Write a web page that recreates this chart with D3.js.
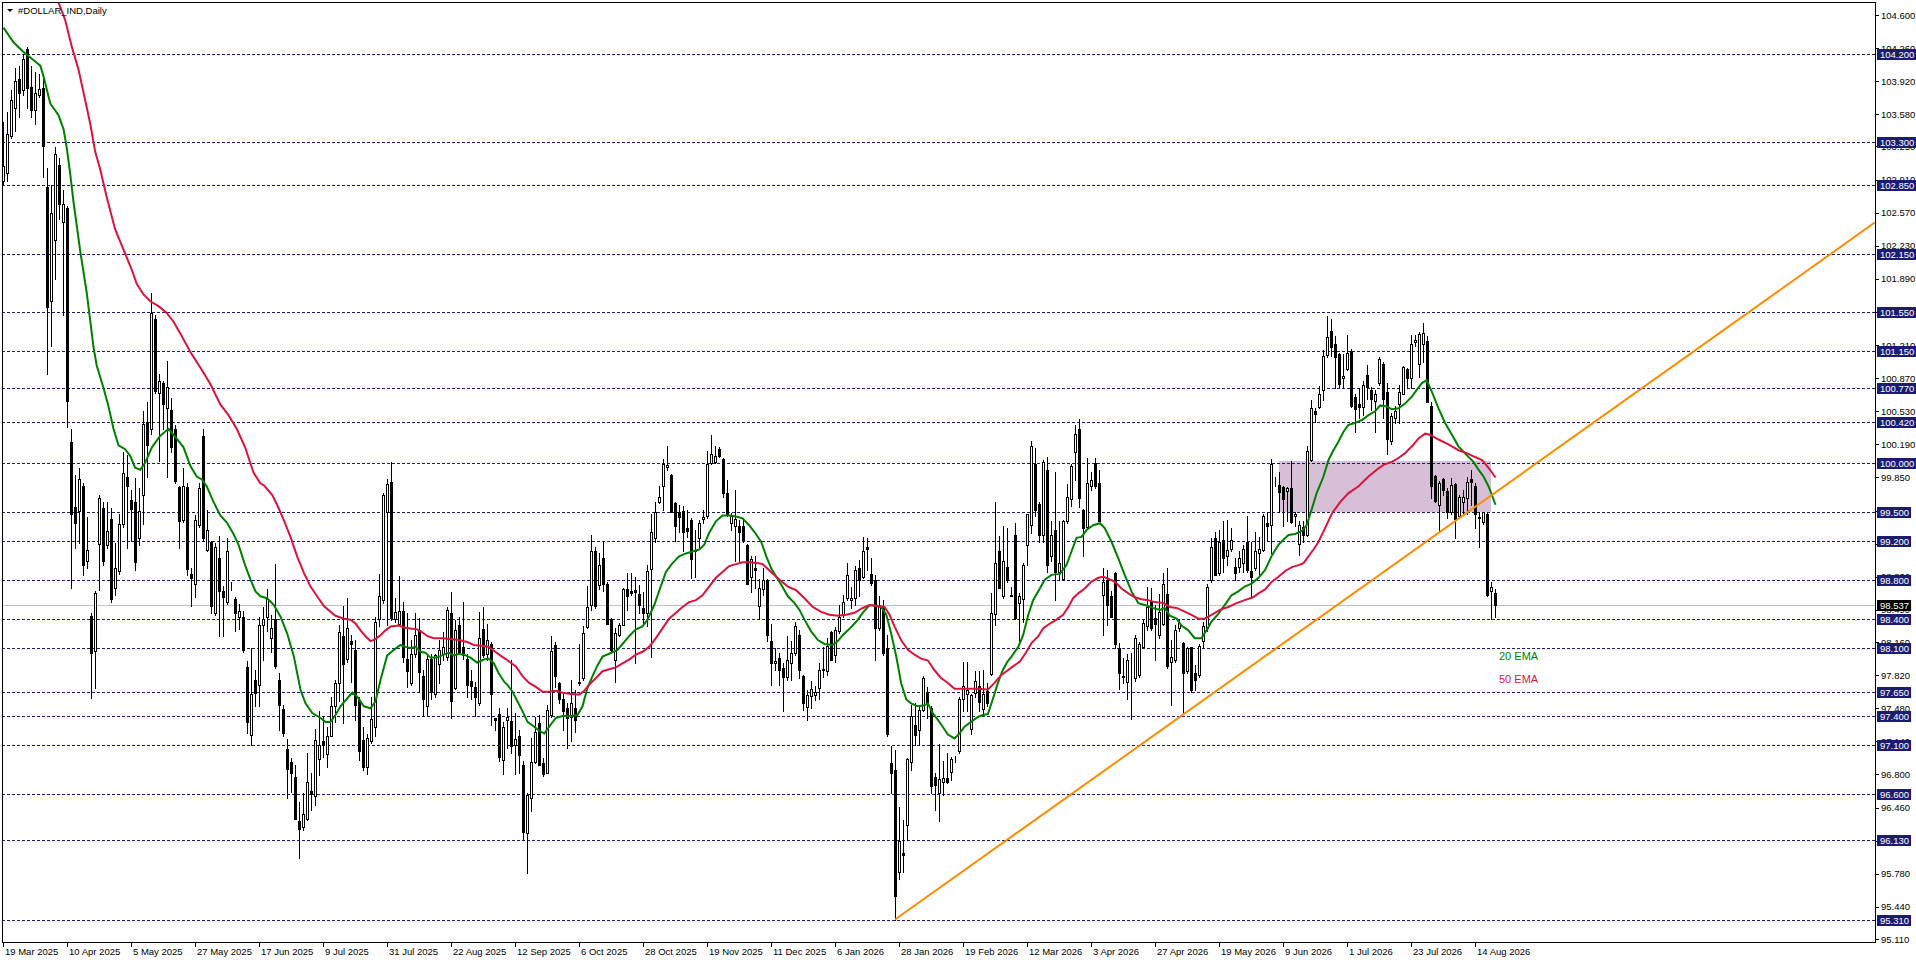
<!DOCTYPE html>
<html>
<head>
<meta charset="utf-8">
<script src="https://cdn.jsdelivr.net/npm/d3@7"></script>
<style>
body { margin: 0; background: #fff; overflow: hidden; }
text { font-family: 'Liberation Sans', Arial, sans-serif; }
</style>
</head>
<body>
<script>
// daily bars, bar 0 = 19 Mar 2025 : [open, high, low, close]
let ohlc = [
[102.90,103.50,102.86,103.05],[102.98,103.60,102.90,103.38],[103.36,103.83,103.34,103.73],[103.64,104.06,103.41,103.92],[103.94,104.08,103.55,103.80],
[103.83,104.20,103.78,104.15],[104.25,104.27,103.64,103.85],[103.86,104.08,103.55,103.62],[103.62,104.01,103.48,103.80],[103.78,103.99,103.76,103.84],
[103.85,103.99,102.94,103.25],[102.83,103.03,100.91,101.60],[101.66,102.85,101.20,102.57],[102.29,103.24,101.89,103.17],[103.06,103.13,102.50,102.66],
[102.47,102.80,101.52,102.66],[102.62,102.64,100.37,100.64],[100.21,100.35,98.72,99.48],[99.55,99.88,99.13,99.38],[99.51,99.95,99.18,99.83],
[99.76,99.79,98.85,98.95],[98.99,99.44,98.92,99.11],[98.43,98.46,97.59,98.05],[98.07,98.68,97.69,98.66],[99.17,99.67,98.69,99.64],
[99.54,99.60,98.95,98.99],[99.16,99.60,99.13,99.30],[99.42,99.54,98.57,98.60],[98.72,99.18,98.64,98.92],[98.89,99.48,98.86,99.37],
[99.37,100.11,99.34,99.90],[99.86,100.08,99.13,99.76],[99.62,99.72,99.20,99.53],[99.60,99.84,98.90,98.98],[99.23,99.74,99.16,99.51],
[99.67,100.53,99.37,100.40],[100.42,100.63,99.86,100.18],[100.35,101.74,100.30,101.54],[101.48,101.52,100.72,100.74],[100.72,100.91,100.02,100.84],
[100.82,100.84,100.35,100.60],[100.56,101.05,99.86,100.78],[100.54,100.67,100.11,100.16],[100.35,100.39,99.79,99.81],[99.75,99.76,99.13,99.40],
[99.41,99.95,99.39,99.76],[99.75,99.79,98.85,98.91],[98.86,98.92,98.53,98.82],[98.76,99.46,98.62,99.41],[99.36,99.79,99.34,99.74],
[100.28,100.35,99.20,99.23],[99.11,99.52,99.09,99.31],[99.19,99.20,98.46,98.53],[98.46,99.18,98.44,99.14],[99.02,99.25,98.22,98.68],
[98.68,98.74,98.22,98.62],[98.57,99.23,98.55,99.09],[98.76,98.78,98.69,98.76],[98.60,98.62,98.27,98.46],[98.42,98.55,98.29,98.48],
[98.42,98.48,98.06,98.08],[97.90,97.97,97.23,97.34],[97.21,98.10,97.10,97.63],[97.77,97.87,97.50,97.64],[97.72,98.42,97.50,98.34],
[98.34,98.52,97.98,98.40],[98.42,98.70,98.27,98.60],[98.20,98.44,98.06,98.30],[98.40,98.96,97.89,97.91],[97.77,97.84,97.26,97.51],
[97.47,97.51,97.19,97.23],[97.06,97.16,96.56,96.86],[96.93,96.97,96.62,96.82],[96.77,96.90,96.34,96.34],[96.32,96.52,95.94,96.24],
[96.26,96.61,96.23,96.39],[96.34,97.02,96.33,96.72],[96.63,96.81,96.44,96.60],[96.58,97.27,96.49,97.15],[96.96,97.45,96.79,97.10],
[97.14,97.40,96.98,97.10],[97.01,97.29,96.88,97.20],[97.20,97.60,97.19,97.50],[97.50,97.77,97.34,97.74],[97.74,98.34,97.55,98.26],
[98.22,98.53,97.33,97.93],[97.99,98.61,97.96,98.30],[98.17,98.23,97.75,98.14],[98.08,98.18,97.36,97.51],[97.56,97.60,96.95,97.04],
[97.15,97.29,96.85,96.88],[96.88,97.22,96.80,97.17],[97.14,97.60,97.12,97.37],[97.29,98.42,97.19,98.37],[98.40,98.86,98.32,98.63],
[98.59,99.69,98.56,99.67],[99.50,99.83,98.34,99.78],[99.80,100.01,98.39,98.41],[98.40,98.61,98.37,98.47],[98.35,98.84,98.34,98.48],
[98.48,98.57,97.96,98.01],[97.99,98.46,97.70,97.86],[97.74,98.18,97.72,98.04],[98.04,98.46,98.01,98.23],[98.28,98.41,97.65,97.85],
[97.81,97.87,97.40,97.57],[97.50,98.04,97.41,97.99],[97.99,98.04,97.57,97.65],[97.63,98.04,97.60,98.03],[97.93,98.18,97.74,98.08],
[98.04,98.26,97.98,98.11],[98.01,98.52,97.98,98.49],[98.46,98.67,97.38,97.55],[97.69,98.39,97.68,98.28],[98.34,98.42,98.04,98.06],
[98.11,98.57,97.99,98.03],[97.99,98.04,97.60,97.72],[97.76,97.87,97.57,97.71],[97.70,97.75,97.40,97.60],[97.53,98.47,97.51,98.20],
[98.29,98.52,98.01,98.03],[98.04,98.35,97.98,98.18],[98.14,98.16,97.31,97.63],[97.38,97.38,97.26,97.36],[97.42,97.48,96.94,96.98],
[96.95,97.34,96.80,97.29],[97.36,97.48,97.07,97.39],[97.35,97.98,97.02,97.09],[97.10,97.43,96.80,97.16],[97.20,97.26,96.81,97.00],
[96.90,96.94,96.13,96.21],[96.20,96.61,95.79,96.59],[96.56,97.17,96.42,96.93],[96.93,97.39,96.92,97.24],[97.33,97.41,96.90,96.90],
[96.92,96.97,96.78,96.80],[96.81,97.51,96.81,97.46],[97.41,98.22,97.39,98.07],[98.13,98.16,97.70,97.81],[97.74,97.75,97.53,97.57],
[97.57,97.63,97.26,97.45],[97.48,97.53,97.07,97.38],[97.39,97.77,97.14,97.53],[97.48,97.67,97.24,97.36],[97.75,98.14,97.72,97.74],
[97.79,98.32,97.77,98.25],[98.31,98.74,98.30,98.52],[98.54,99.26,98.49,99.10],[99.10,99.14,98.51,98.53],[98.75,99.07,98.70,98.95],
[99.02,99.20,98.68,98.76],[98.76,98.78,98.35,98.35],[98.40,98.41,98.06,98.08],[97.98,98.30,97.75,98.25],[98.23,98.36,98.22,98.34],
[98.34,98.71,98.33,98.70],[98.70,98.87,98.49,98.63],[98.68,98.87,98.64,98.66],[98.69,98.83,97.94,98.67],[98.65,98.75,98.46,98.54],
[98.51,98.67,98.35,98.46],[98.46,98.95,98.32,98.89],[98.91,99.48,98.01,99.29],[99.23,99.60,99.19,99.50],[99.60,99.76,99.59,99.65],
[99.76,100.04,99.52,99.99],[99.96,100.17,99.93,99.98],[99.88,99.89,99.50,99.50],[99.59,99.60,99.20,99.35],[99.50,99.57,99.29,99.44],
[99.51,99.56,99.09,99.29],[99.33,99.52,99.24,99.30],[99.41,99.43,98.82,99.01],[99.09,99.31,98.83,99.11],[99.23,99.41,99.14,99.38],
[99.42,99.52,99.38,99.44],[99.45,100.12,99.43,99.99],[100.00,100.29,99.99,100.09],[100.01,100.17,100.00,100.07],[100.14,100.16,100.06,100.07],
[100.04,100.05,99.65,99.69],[99.69,99.82,99.45,99.47],[99.38,99.49,99.31,99.45],[99.35,99.72,98.99,99.42],[99.35,99.41,98.99,99.29],
[99.35,99.43,99.19,99.21],[99.16,99.17,98.76,98.76],[98.83,99.04,98.67,99.01],[98.92,99.04,98.71,98.90],[98.53,98.81,98.40,98.71],
[98.70,98.92,98.64,98.80],[98.80,98.81,98.17,98.23],[98.17,98.35,97.72,97.94],[97.94,98.10,97.87,97.97],[98.00,98.05,97.72,97.87],
[97.89,97.94,97.45,97.80],[97.80,98.22,97.77,97.98],[97.94,98.17,97.77,98.05],[98.05,98.37,98.03,98.32],[98.23,98.28,97.79,97.87],
[97.81,97.82,97.46,97.53],[97.49,97.67,97.36,97.62],[97.61,97.76,97.48,97.68],[97.62,97.71,97.56,97.65],[97.69,97.94,97.58,97.87],
[97.88,98.11,97.80,97.87],[97.86,98.20,97.82,98.12],[98.26,98.27,97.98,97.98],[98.03,98.31,97.96,98.28],[98.27,98.54,98.25,98.42],
[98.44,98.64,98.42,98.57],[98.61,98.97,98.59,98.85],[98.59,98.73,98.51,98.61],[98.61,98.94,98.54,98.90],[98.92,99.00,98.63,98.80],
[98.83,99.24,98.82,99.10],[99.14,99.23,98.90,99.12],[98.86,99.02,98.75,98.77],[98.80,98.85,97.98,98.30],[98.30,98.63,98.28,98.54],
[98.52,98.59,98.03,98.05],[98.10,98.23,97.19,97.22],[96.92,97.09,96.61,96.81],[96.85,97.05,95.31,95.55],[95.80,96.47,95.73,96.12],
[95.99,96.33,95.80,95.97],[96.28,96.97,96.13,96.96],[96.93,97.51,96.85,97.40],[97.31,97.53,97.10,97.21],[97.26,97.51,97.10,97.46],
[97.46,97.81,97.45,97.79],[97.65,97.70,97.38,97.53],[97.48,97.50,96.61,96.68],[96.77,96.81,96.44,96.69],[96.61,97.11,96.32,96.75],
[96.72,96.94,96.59,96.76],[96.76,97.02,96.71,96.72],[96.83,96.98,96.74,96.96],[96.98,96.99,96.93,96.98],[97.04,97.60,97.02,97.58],
[97.57,97.95,97.45,97.71],[97.63,97.95,97.45,97.67],[97.27,97.63,97.22,97.62],[97.64,97.86,97.60,97.76],[97.71,97.86,97.45,97.54],
[97.47,97.87,97.41,97.63],[97.66,97.74,97.50,97.53],[97.83,98.66,97.82,98.46],[98.45,99.60,98.34,98.97],[99.09,99.25,98.71,98.71],
[98.63,99.35,98.61,98.99],[98.93,99.33,98.78,98.80],[98.64,98.73,98.63,98.63],[99.26,99.38,98.40,98.41],[98.56,98.66,98.17,98.63],
[98.60,98.97,98.37,98.95],[99.16,99.48,98.95,99.47],[99.36,100.22,99.28,100.17],[99.99,100.15,99.45,99.52],[99.58,99.60,99.19,99.26],
[99.26,100.03,99.19,100.01],[99.93,100.06,98.88,98.95],[99.04,99.40,98.99,99.26],[99.31,99.91,98.59,98.88],[98.88,99.40,98.80,98.97],
[98.81,99.41,98.80,99.40],[99.40,99.78,99.38,99.65],[99.63,99.99,99.56,99.97],[100.11,100.39,99.82,100.30],[100.35,100.45,99.55,99.64],
[99.52,99.53,99.04,99.33],[99.34,100.05,99.33,99.79],[99.76,99.91,99.72,99.82],[100.00,100.05,99.74,99.76],[99.79,99.93,99.40,99.40],
[98.64,98.92,98.23,98.78],[98.80,98.90,98.34,98.54],[98.63,98.68,98.42,98.42],[98.87,98.88,98.10,98.14],[98.10,98.15,97.68,97.84],
[97.81,98.00,97.74,97.80],[97.75,98.04,97.57,97.98],[97.99,98.05,97.37,97.99],[97.79,98.23,97.76,98.20],[97.82,98.16,97.80,98.14],
[98.11,98.39,98.11,98.36],[98.32,98.73,98.28,98.52],[98.58,98.71,98.28,98.30],[98.41,98.54,97.98,98.35],[98.23,98.65,98.20,98.47],
[98.35,98.87,98.33,98.76],[98.65,98.92,97.89,97.91],[97.96,98.18,97.51,98.01],[97.98,98.33,97.96,98.28],[98.30,98.40,98.27,98.36],
[98.15,98.16,97.43,97.84],[97.86,98.11,97.84,98.10],[98.11,98.11,97.65,97.67],[97.84,97.92,97.67,97.77],[97.82,98.14,97.80,98.12],
[98.17,98.37,98.11,98.32],[98.30,98.76,98.27,98.73],[98.80,99.23,98.78,99.14],[99.23,99.29,98.85,98.85],[98.87,99.31,98.85,99.19],
[99.21,99.40,98.88,99.02],[99.04,99.41,98.95,99.11],[99.12,99.33,99.09,99.21],[98.93,99.02,98.80,98.87],[98.93,99.09,98.88,99.02],
[98.97,99.16,98.88,99.12],[99.19,99.45,98.88,98.90],[98.89,99.19,98.63,98.83],[98.92,99.29,98.90,99.09],[99.07,99.24,98.85,99.12],
[99.11,99.48,99.09,99.45],[99.38,99.50,99.21,99.35],[99.36,100.04,99.07,99.99],[99.77,99.86,99.76,99.77],[99.77,99.91,99.50,99.70],
[99.75,99.76,99.35,99.63],[99.71,99.75,99.40,99.74],[99.74,100.02,99.38,99.39],[99.45,99.50,99.35,99.48],[99.17,99.40,99.05,99.36],
[99.34,99.40,99.19,99.26],[99.26,100.17,99.25,100.12],[100.03,100.65,100.02,100.56],[100.53,100.56,100.42,100.50],[100.57,100.79,100.56,100.71],
[100.75,101.16,100.65,101.10],[101.11,101.51,101.09,101.29],[101.35,101.48,101.10,101.19],[101.22,101.30,100.77,101.09],[101.12,101.13,100.78,100.81],
[100.87,101.12,100.77,100.89],[100.96,101.31,100.95,101.13],[101.15,101.17,100.57,100.58],[100.68,100.71,100.32,100.55],[100.60,100.77,100.46,100.57],
[100.57,100.84,100.49,100.80],[100.90,101.01,100.66,100.78],[100.75,100.78,100.54,100.66],[100.64,100.75,100.32,100.71],[100.82,101.09,100.80,101.07],
[101.02,101.04,100.46,100.66],[100.73,100.82,100.09,100.25],[100.22,100.51,100.19,100.48],[100.46,100.58,100.41,100.53],[100.60,100.80,100.41,100.73],
[100.71,100.99,100.71,100.98],[100.96,100.97,100.77,100.87],[100.87,101.31,100.77,101.22],[101.24,101.31,101.20,101.26],[101.02,101.34,100.88,101.32],
[101.22,101.44,101.04,101.33],[101.25,101.30,100.63,100.63],[100.58,100.63,99.64,99.76],[99.87,99.88,99.60,99.61],[99.57,99.81,99.30,99.79],
[99.83,99.84,99.67,99.72],[99.71,99.74,99.43,99.50],[99.50,99.84,99.48,99.77],[99.78,99.79,99.23,99.42],[99.45,99.67,99.43,99.65],
[99.60,99.72,99.48,99.65],[99.64,99.85,99.48,99.80],[99.83,99.93,99.57,99.80],[99.76,99.79,99.33,99.48],[99.43,99.50,99.14,99.44],
[99.39,99.50,99.37,99.50],[99.48,99.50,98.63,98.64],[98.68,98.78,98.40,98.73],[98.66,98.70,98.42,98.537]
]

// one label every 16 bars
let dateLabels = ['19 Mar 2025','10 Apr 2025','5 May 2025','27 May 2025','17 Jun 2025','9 Jul 2025','31 Jul 2025','22 Aug 2025',
  '12 Sep 2025','6 Oct 2025','28 Oct 2025','19 Nov 2025','11 Dec 2025','6 Jan 2026','28 Jan 2026','19 Feb 2026',
  '12 Mar 2026','3 Apr 2026','27 Apr 2026','19 May 2026','9 Jun 2026','1 Jul 2026','23 Jul 2026','14 Aug 2026']
let labelStep = 16

let priceTicks = [104.600,104.260,103.920,103.580,103.250,102.910,102.570,102.230,101.890,101.550,101.210,100.870,100.530,
  100.190,99.850,99.510,99.170,98.830,98.490,98.160,97.820,97.480,97.140,96.800,96.460,96.120,95.780,95.440,95.110]

let levels = [104.200,103.300,102.850,102.150,101.550,101.150,100.770,100.420,100.000,99.500,99.200,98.800,98.400,
  98.100,97.650,97.400,97.100,96.600,96.130,95.310]

let lastPrice = 98.537

// [bar, value]
let ema20 = [[0,104.47],[2.5,104.32],[5,104.22],[7.1,104.15],[9.2,104.08],[10,103.97],[11.7,103.69],[13.75,103.57],[15,103.43],
[15.8,103.24],[16.7,102.96],[17.5,102.68],[19.2,102.17],[20.8,101.75],[22.5,101.19],[23.3,101.00],[25,100.77],[26.25,100.58],
[27.5,100.35],[28.75,100.18],[30.4,100.14],[31.7,100.07],[32.9,99.95],[34.2,99.93],[35.4,100.00],[37.1,100.16],[39.2,100.28],
[41.25,100.35],[43.3,100.25],[45,100.16],[46.7,99.97],[48.3,99.86],[49.6,99.83],[50.8,99.76],[52.5,99.60],[54.2,99.46],[55.8,99.39],
[57.5,99.27],[58.75,99.16],[60.4,98.95],[61.75,98.80],[63,98.68],[64.25,98.63],[65.9,98.61],[67.6,98.54],[69.25,98.42],[70.9,98.25],
[72.6,98.01],[74.25,97.67],[75.5,97.53],[77.2,97.43],[79.25,97.38],[80.5,97.34],[81.75,97.34],[83,97.41],[84.25,97.50],[85.9,97.58],
[87.2,97.64],[88.4,97.60],[90.1,97.50],[91.75,97.48],[93,97.55],[94.25,97.77],[95.9,98.02],[97.6,98.08],[99.25,98.13],[100.5,98.11],
[101.75,98.10],[103,98.11],[104.25,98.06],[105.5,98.05],[106.75,98.00],[108.4,98.00],[110.1,98.03],[111.3,98.05],[112.6,98.02],
[113.8,98.04],[115.1,98.03],[116.75,98.00],[118.4,97.95],[120.1,97.98],[121.3,97.99],[122.6,97.94],[123.8,97.84],[125.2,97.75],
[126,97.72],[127.25,97.65],[128.5,97.55],[129.75,97.45],[131,97.34],[132.7,97.29],[133.9,97.25],[135.2,97.22],[136.4,97.29],
[138.1,97.38],[139.75,97.40],[141.8,97.40],[143.5,97.41],[144.75,97.50],[146,97.69],[147.25,97.81],[148.5,97.92],[149.75,98.01],
[151.4,98.04],[153.5,98.08],[154.75,98.14],[156.4,98.22],[158.1,98.29],[159.75,98.32],[161,98.39],[162.7,98.54],[164.3,98.73],
[165.6,98.88],[167.25,98.97],[168.9,99.04],[170.6,99.07],[172.25,99.09],[173.9,99.11],[175.2,99.16],[176.4,99.28],[178.1,99.40],
[179.75,99.46],[181.4,99.46],[183.1,99.45],[184.75,99.43],[186.4,99.36],[187.75,99.29],[189.4,99.19],[190.7,99.04],[191.9,98.92],
[193.2,98.83],[194.4,98.75],[196.1,98.63],[197.75,98.56],[199,98.49],[200.25,98.39],[201.9,98.27],[203.6,98.18],[205.25,98.14],
[207.3,98.13],[208.6,98.17],[209.8,98.23],[211.1,98.28],[212.3,98.33],[213.6,98.39],[214.8,98.46],[216.5,98.54],[218.2,98.53],
[219.4,98.52],[220.7,98.44],[221.9,98.25],[223.2,98.01],[224.4,97.74],[225.7,97.57],[226.9,97.53],[228.6,97.50],[230.25,97.51],
[231.1,97.53],[232.3,97.43],[233.6,97.36],[234.8,97.29],[236.1,97.21],[237.75,97.17],[239,97.22],[240.25,97.29],[241.9,97.34],
[243.6,97.39],[244.8,97.41],[246.1,97.42],[247.3,97.57],[248.6,97.74],[249.8,97.87],[251,97.96],[252,98.01],[253.7,98.11],
[254.9,98.23],[256.2,98.44],[257.4,98.59],[259.1,98.71],[260.3,98.80],[262,98.85],[264.1,98.86],[265.75,98.95],[267,99.09],
[268.25,99.23],[269.5,99.24],[270.75,99.31],[272.4,99.36],[274.1,99.38],[275.3,99.33],[277,99.19],[278.7,99.02],[280.3,98.85],
[282,98.68],[283.7,98.56],[285.3,98.54],[287.4,98.51],[289.1,98.49],[290.3,98.51],[291.6,98.43],[293.25,98.40],[294.5,98.33],
[296.2,98.28],[297.8,98.20],[299.5,98.20],[300.75,98.28],[302,98.37],[303.7,98.45],[305.3,98.54],[307,98.64],[308.7,98.68],
[310.3,98.73],[312,98.76],[313.75,98.82],[315.4,98.90],[317.1,99.05],[318.75,99.16],[320,99.21],[321.25,99.26],[322.9,99.27],
[324.6,99.30],[325.8,99.36],[327.1,99.53],[328.3,99.69],[330,99.86],[331.25,100.03],[332.5,100.13],[333.75,100.22],[335,100.32],
[336.25,100.39],[337.9,100.41],[339.6,100.44],[341.25,100.49],[342.9,100.53],[344.2,100.59],[345.8,100.58],[347.1,100.55],
[348.75,100.56],[350.4,100.61],[352.1,100.68],[353.3,100.75],[354.6,100.82],[355.8,100.85],[357.1,100.73],[358.75,100.56],
[360.4,100.41],[362.1,100.29],[363.75,100.17],[365.8,100.08],[367.5,100.01],[368.75,99.93],[370,99.86],[371.25,99.76],
[372.1,99.67],[373,99.57]]

let ema50 = [[12.5,104.87],[13.75,104.73],[15.4,104.55],[17.1,104.27],[18.75,104.04],[20.4,103.73],[21.7,103.48],[22.9,103.20],
[24.2,103.01],[25.8,102.73],[27.9,102.40],[30,102.19],[32.1,101.98],[33.3,101.84],[35,101.73],[36.7,101.66],[38.75,101.61],
[40.8,101.54],[42.5,101.45],[44.2,101.33],[46.7,101.14],[49.2,100.98],[51.7,100.81],[54.2,100.60],[56.25,100.49],[58.3,100.35],
[60.4,100.16],[62.5,99.90],[64.2,99.79],[65.1,99.77],[67.2,99.67],[68.4,99.57],[70.1,99.41],[71.75,99.24],[73.4,99.04],[75.1,98.87],
[76.75,98.73],[78.4,98.63],[80.1,98.53],[81.75,98.47],[83,98.43],[85.1,98.40],[86.75,98.39],[88,98.35],[89.25,98.28],[90.5,98.22],
[91.75,98.17],[93,98.19],[94.25,98.23],[95.5,98.28],[96.75,98.32],[98.8,98.33],[100.1,98.31],[101.75,98.30],[103.4,98.29],
[104.7,98.26],[106,98.22],[107.6,98.20],[109.7,98.20],[111.75,98.19],[113.8,98.18],[115.9,98.16],[117.6,98.13],[120.1,98.12],
[121.3,98.11],[122.6,98.07],[124.25,98.02],[125.75,97.98],[126.4,97.96],[128.1,97.91],[129.75,97.81],[131.4,97.74],[133.1,97.70],
[134.75,97.65],[136.4,97.65],[138.1,97.66],[139.75,97.64],[141.4,97.63],[143.9,97.62],[145.2,97.66],[146.4,97.72],[148.1,97.79],
[149.75,97.86],[151.4,97.88],[153.1,97.90],[154.75,97.94],[156.4,97.98],[158.1,98.03],[159.75,98.06],[161.4,98.11],[163.1,98.20],
[164.75,98.30],[166.4,98.40],[168.1,98.46],[169.75,98.52],[171.4,98.57],[173.1,98.59],[174.75,98.64],[176.4,98.73],[178.1,98.82],
[179.75,98.88],[181.4,98.94],[183.1,98.96],[184.75,98.98],[186.4,98.98],[188.75,98.97],[189.8,98.96],[191.9,98.88],[194,98.80],
[196.1,98.73],[198.2,98.69],[200.25,98.61],[202.3,98.52],[204.4,98.47],[206.5,98.44],[208.6,98.43],[210.7,98.44],[212.75,98.46],
[214.8,98.51],[216.5,98.54],[218.6,98.53],[220.25,98.52],[221.5,98.44],[222.75,98.32],[224.4,98.18],[226.1,98.08],[227.75,98.03],
[229.4,97.99],[231.1,97.97],[232.75,97.87],[234.4,97.79],[236.1,97.74],[237.75,97.68],[239.8,97.68],[241.9,97.68],[244,97.68],
[246.1,97.67],[247.75,97.74],[249.4,97.82],[250.75,97.86],[252.4,97.91],[254.1,97.96],[255.75,98.06],[257,98.15],[258.7,98.22],
[259.9,98.30],[261.6,98.35],[263.25,98.39],[264.9,98.44],[266.2,98.52],[267.4,98.61],[268.7,98.66],[270.3,98.71],[272,98.78],
[273.7,98.82],[274.9,98.83],[276.2,98.81],[277.8,98.78],[279.5,98.71],[281.2,98.66],[282.8,98.62],[284.5,98.60],[286.2,98.59],
[287.8,98.57],[289.9,98.56],[291.6,98.52],[293.25,98.51],[294.9,98.48],[297,98.44],[298.7,98.40],[300.3,98.40],[302,98.44],
[304.1,98.49],[306.2,98.52],[308.25,98.56],[310.3,98.59],[312.4,98.62],[313.75,98.66],[315.4,98.70],[317.1,98.78],[318.75,98.83],
[320.4,98.89],[322.1,98.93],[323.75,98.95],[325,98.97],[326.25,99.04],[327.5,99.11],[328.75,99.19],[330.4,99.33],[332.1,99.48],
[334.2,99.60],[336.25,99.69],[338.75,99.76],[341.25,99.86],[343.3,99.93],[345,99.98],[347.1,100.01],[348.75,100.05],[350.4,100.10],
[352.1,100.17],[353.75,100.25],[355.4,100.30],[356.6,100.29],[358.75,100.24],[361.25,100.19],[363.75,100.13],[365.8,100.10],
[367.9,100.06],[369.6,100.03],[371.25,99.95],[373,99.85]]

let trendLine = [[223, 95.31], [468, 102.47]]
let zone = [319, 372, 99.50, 100.02]   // bar from, bar to, low, high

let width = 1916, height = 963
let plot = {left: 2, top: 2, right: 1875, bottom: 942}

let svg = d3.select('body')
.append('svg')
.attr('width', width)
.attr('height', height)

let x = d3.scaleLinear().domain([0, 468]).range([3, 1875])
let y = d3.scaleLinear().domain([95.11, 104.6]).range([939, 15])

svg.append('clipPath')
.attr('id', 'clip')
.append('rect')
.attr('x', plot.left + 1)
.attr('y', plot.top + 1)
.attr('width', plot.right - plot.left - 1)
.attr('height', plot.bottom - plot.top - 1)

let area = svg.append('g').attr('clip-path', 'url(#clip)')

// support/resistance zone
area.append('rect')
.attr('x', x(zone[0]))
.attr('width', x(zone[1]) - x(zone[0]))
.attr('y', Math.round(y(zone[3])))
.attr('height', Math.round(y(zone[2])) - Math.round(y(zone[3])))
.style('fill', '#d8bfd8')

// horizontal levels
area.selectAll('.level')
.data(levels)
.join('line')
.attr('class', 'level')
.attr('x1', plot.left)
.attr('x2', plot.right)
.attr('y1', d => Math.round(y(d)) + 0.5)
.attr('y2', d => Math.round(y(d)) + 0.5)
.style('stroke', '#1b1b6f')
.style('stroke-width', 1)
.style('stroke-dasharray', '3,2')

area.append('line')
.attr('x1', plot.left)
.attr('x2', plot.right)
.attr('y1', Math.round(y(lastPrice)) + 0.5)
.attr('y2', Math.round(y(lastPrice)) + 0.5)
.style('stroke', '#c0c0c0')

// candles
let candles = area.selectAll('.candle')
.data(ohlc)
.join('g')
.attr('class', 'candle')
.style('shape-rendering', 'crispEdges')

candles.append('line')
.attr('x1', (d, i) => x(i) + 0.5)
.attr('x2', (d, i) => x(i) + 0.5)
.attr('y1', d => Math.round(y(d[1])))
.attr('y2', d => Math.round(y(d[2])) + 1)
.style('stroke', '#000')

candles.append('rect')
.attr('x', (d, i) => d[3] >= d[0] ? x(i) - 0.5 : x(i) - 1)
.attr('width', d => d[3] >= d[0] ? 2 : 3)
.attr('y', d => {
	let t = Math.round(y(Math.max(d[0], d[3])))
	return d[3] >= d[0] ? t + 0.5 : t
})
.attr('height', d => {
	let t = Math.round(y(Math.max(d[0], d[3]))), b = Math.round(y(Math.min(d[0], d[3])))
	return d[3] >= d[0] ? b - t : Math.max(b - t + 1, 1)
})
.style('fill', d => d[3] >= d[0] ? '#fff' : '#000')
.style('stroke', d => d[3] >= d[0] ? '#000' : 'none')

// moving averages
let emaLine = d3.line()
.x(d => x(d[0]) + 0.5)
.y(d => y(d[1]))

area.append('path')
.datum(ema20)
.attr('d', emaLine)
.style('fill', 'none')
.style('stroke', '#008000')
.style('stroke-width', 2)

area.append('path')
.datum(ema50)
.attr('d', emaLine)
.style('fill', 'none')
.style('stroke', '#dc143c')
.style('stroke-width', 2)

// trend line
area.append('path')
.datum(trendLine)
.attr('d', d3.line().x(d => x(d[0])).y(d => y(d[1])))
.style('fill', 'none')
.style('stroke', '#ff8c00')
.style('stroke-width', 2)

// frame
svg.append('rect')
.attr('x', plot.left + 0.5)
.attr('y', plot.top + 0.5)
.attr('width', plot.right - plot.left)
.attr('height', plot.bottom - plot.top)
.style('fill', 'none')
.style('stroke', '#000')
.style('shape-rendering', 'crispEdges')

// price axis
let yAxis = svg.append('g').attr('class', 'axis')

yAxis.selectAll('.ytick')
.data(priceTicks)
.join('line')
.attr('class', 'ytick')
.attr('x1', plot.right)
.attr('x2', plot.right + 4)
.attr('y1', d => Math.round(y(d)) + 0.5)
.attr('y2', d => Math.round(y(d)) + 0.5)
.style('stroke', '#000')

yAxis.selectAll('.ylabel')
.data(priceTicks)
.join('text')
.attr('class', 'ylabel')
.text(d => d.toFixed(3))
.attr('x', plot.right + 6)
.attr('y', d => y(d) + 3.5)
.style('font-size', '9.5px')
.style('fill', '#000')

// level tags
function priceTag(v, colour) {
	let g = svg.append('g')
	let r = g.append('rect')
	.attr('x', plot.right + 2)
	.attr('y', Math.round(y(v)) - 5)
	.attr('height', 11)
	.style('fill', colour)
	let t = g.append('text')
	.text(v.toFixed(3))
	.attr('x', plot.right + 5)
	.attr('y', Math.round(y(v)) + 4)
	.style('font-size', '9.5px')
	.style('fill', '#fff')
	r.attr('width', t.node().getComputedTextLength() + 5)
}

levels.forEach(v => priceTag(v, '#1b1b6f'))
priceTag(lastPrice, '#000')

// time axis
let xAxis = svg.append('g').attr('class', 'axis')

xAxis.selectAll('.xtick')
.data(dateLabels)
.join('line')
.attr('class', 'xtick')
.attr('x1', (d, i) => x(i * labelStep) + 0.5)
.attr('x2', (d, i) => x(i * labelStep) + 0.5)
.attr('y1', plot.bottom)
.attr('y2', plot.bottom + 5)
.style('stroke', '#000')

xAxis.selectAll('.xlabel')
.data(dateLabels)
.join('text')
.attr('class', 'xlabel')
.text(d => d)
.attr('x', (d, i) => x(i * labelStep) + 2)
.attr('y', plot.bottom + 13)
.style('font-size', '9.5px')
.style('fill', '#000')

// title
svg.append('path')
.attr('d', 'M7,9 L13,9 L10,12 Z')
.style('fill', '#000')

svg.append('text')
.text('#DOLLAR_IND,Daily')
.attr('x', 18)
.attr('y', 14)
.style('font-size', '9.5px')
.style('fill', '#000')

// legend
svg.append('text')
.text('20 EMA')
.attr('x', 1499)
.attr('y', 660)
.style('font-size', '11px')
.style('fill', '#008000')

svg.append('text')
.text('50 EMA')
.attr('x', 1499)
.attr('y', 683)
.style('font-size', '11px')
.style('fill', '#dc143c')
</script>
</body>
</html>
